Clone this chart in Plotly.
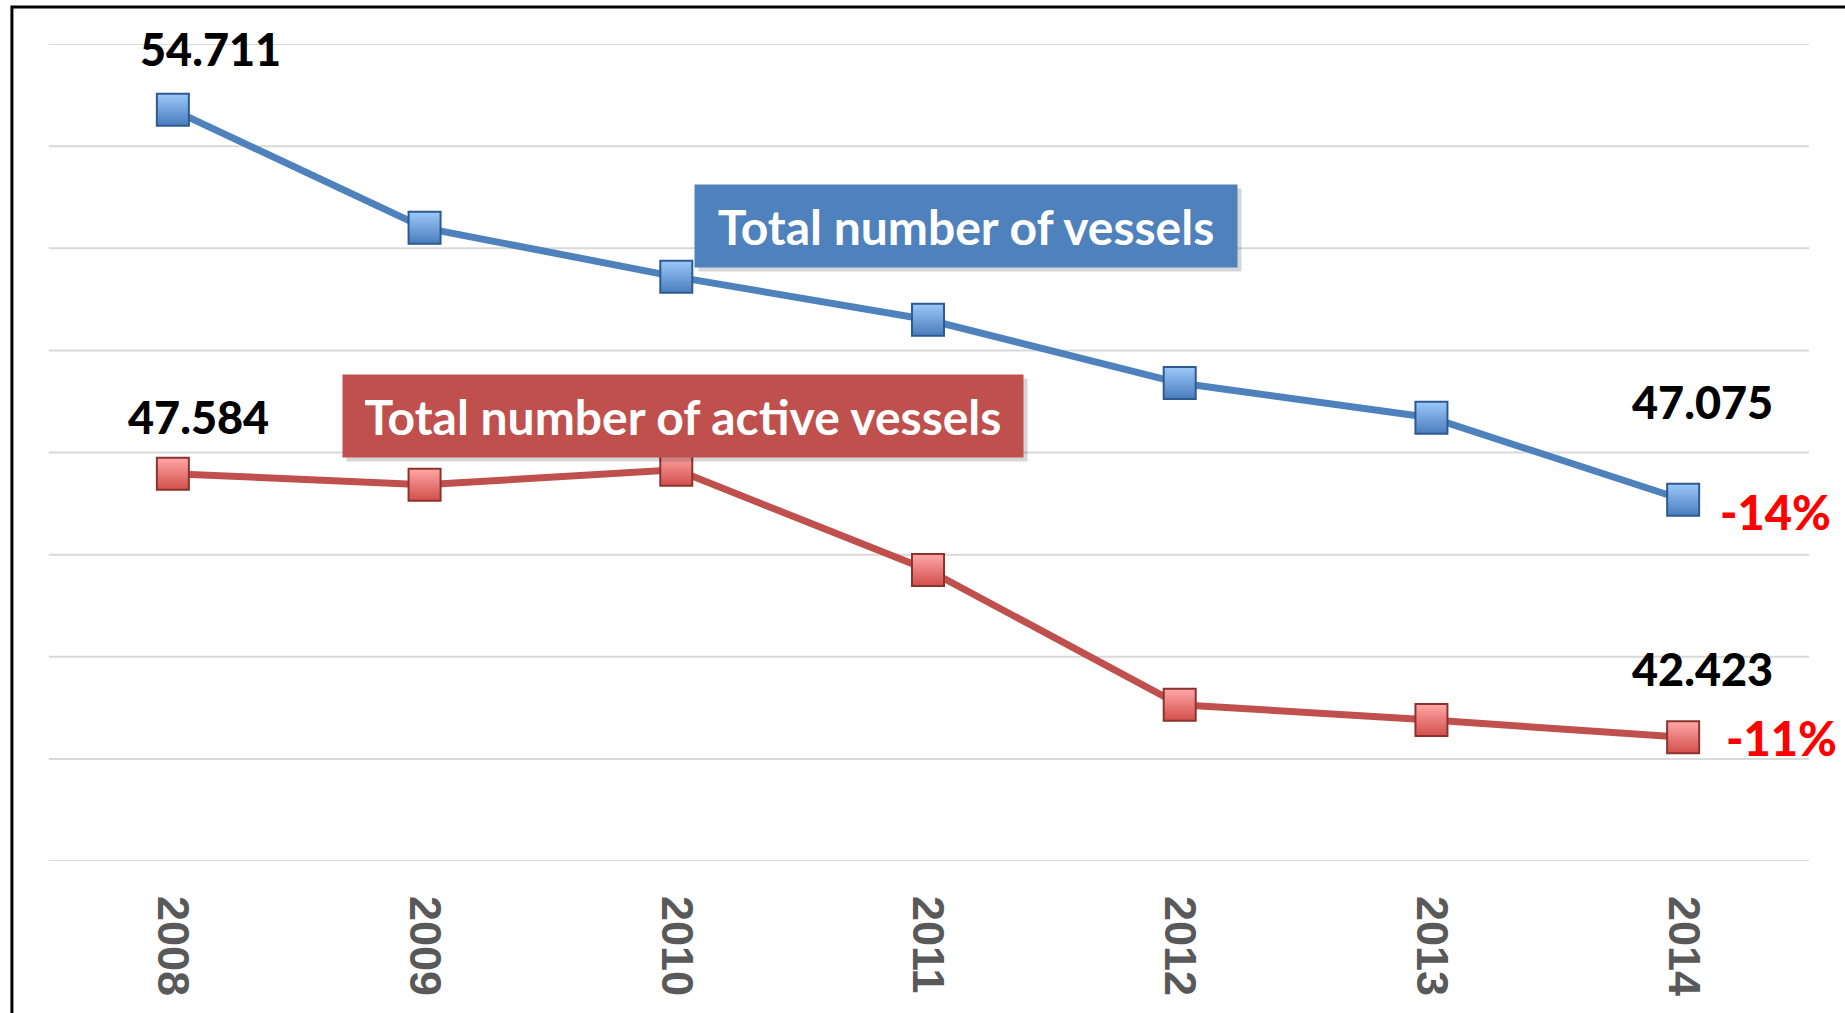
import plotly.graph_objects as go

years = ["2008", "2009", "2010", "2011", "2012", "2013", "2014"]
total_vessels = [54.711, 52.40, 51.44, 50.60, 49.36, 48.68, 47.075]
active_vessels = [47.584, 47.37, 47.66, 45.70, 43.06, 42.76, 42.423]
total_change = "-14%"
active_change = "-11%"
total_name = "Total number of vessels"
active_name = "Total number of active vessels"
grid_values = [40, 42, 44, 46, 48, 50, 52, 54, 56]

BLUE = "#4F81BD"
RED = "#C0504D"
FONT = "Lato, Open Sans, sans-serif"

fig = go.Figure()

fig.add_trace(go.Scatter(
    x=years, y=total_vessels, mode="lines+markers", name=total_name,
    line=dict(color=BLUE, width=7),
    marker=dict(symbol="square", size=32, color="#9CC8FA",
                gradient=dict(type="vertical", color="#4A7DBE"),
                line=dict(color="#2F5A8E", width=2)),
    showlegend=False, hoverinfo="x+y"))

fig.add_trace(go.Scatter(
    x=years, y=active_vessels, mode="lines+markers", name=active_name,
    line=dict(color=RED, width=7),
    marker=dict(symbol="square", size=32, color="#FFA8A8",
                gradient=dict(type="vertical", color="#D24F4B"),
                line=dict(color="#8C3330", width=2)),
    showlegend=False, hoverinfo="x+y"))

first, last = 0, len(years) - 1
annotations = []
value_font = dict(family=FONT, size=45, color="#000000", weight=900)
change_font = dict(family=FONT, size=47, color="#FF0000", weight=900)

# start / end value labels
annotations.append(dict(x=first, y=total_vessels[first], text=f"{total_vessels[first]:.3f}",
                        showarrow=False, xshift=38, yshift=61, font=value_font))
annotations.append(dict(x=first, y=active_vessels[first], text=f"{active_vessels[first]:.3f}",
                        showarrow=False, xshift=26, yshift=57, font=value_font))
annotations.append(dict(x=last, y=total_vessels[last], text=f"{total_vessels[last]:.3f}",
                        showarrow=False, xshift=19, yshift=98, font=value_font))
annotations.append(dict(x=last, y=active_vessels[last], text=f"{active_vessels[last]:.3f}",
                        showarrow=False, xshift=19, yshift=68, font=value_font))
annotations.append(dict(x=last, y=total_vessels[last], text=total_change,
                        showarrow=False, xshift=92, yshift=-12, font=change_font))
annotations.append(dict(x=last, y=active_vessels[last], text=active_change,
                        showarrow=False, xshift=98, yshift=-1, font=change_font))

# series name boxes (with soft shadow)
box_font = dict(family=FONT, size=48, color="#FFFFFF", weight="bold")
for (bx, by, w, col, txt) in [(0.5216, 0.7772, 542, BLUE, total_name),
                               (0.361, 0.5441, 680, RED, active_name)]:
    annotations.append(dict(xref="paper", yref="paper", x=bx, y=by, text=" ",
                            xanchor="center", yanchor="middle",
                            showarrow=False, width=w, height=82, borderpad=0,
                            bgcolor="rgba(0,0,0,0.16)", xshift=4, yshift=-4,
                            font=box_font))
    annotations.append(dict(xref="paper", yref="paper", x=bx, y=by, text=txt,
                            xanchor="center", yanchor="middle",
                            showarrow=False, width=w, height=82, borderpad=0,
                            bgcolor=col, align="center", valign="middle",
                            font=box_font))

shapes = [dict(type="line", xref="paper", x0=0.001, x1=1, yref="y", y0=v, y1=v,
               line=dict(color="#D9D9D9", width=2), layer="below")
          for v in grid_values]
shapes.append(dict(type="rect", xref="paper", yref="paper",
                   x0=-0.0199, x1=1.2, y0=-0.5, y1=1.0453,
                   line=dict(color="black", width=3), fillcolor="rgba(0,0,0,0)",
                   layer="above"))

fig.update_layout(
    width=1845, height=1013,
    margin=dict(l=47, r=36, t=44, b=152),
    paper_bgcolor="white", plot_bgcolor="white",
    annotations=annotations,
    shapes=shapes,
    xaxis=dict(type="category", range=[-0.5, 6.5], showgrid=False, zeroline=False,
               showline=False, ticks="", tickangle=90,
               tickfont=dict(family="Liberation Sans, Arial, sans-serif", size=45,
                             color="#595959", weight="bold"),
               ticklabelstandoff=34),
    yaxis=dict(range=[40, 56], showgrid=False, zeroline=False,
               showticklabels=False, ticks="", showline=False),
)

fig.write_html("out.html", config={"displayModeBar": False},
               post_script="document.body.style.margin='0';document.body.style.overflow='hidden';")
